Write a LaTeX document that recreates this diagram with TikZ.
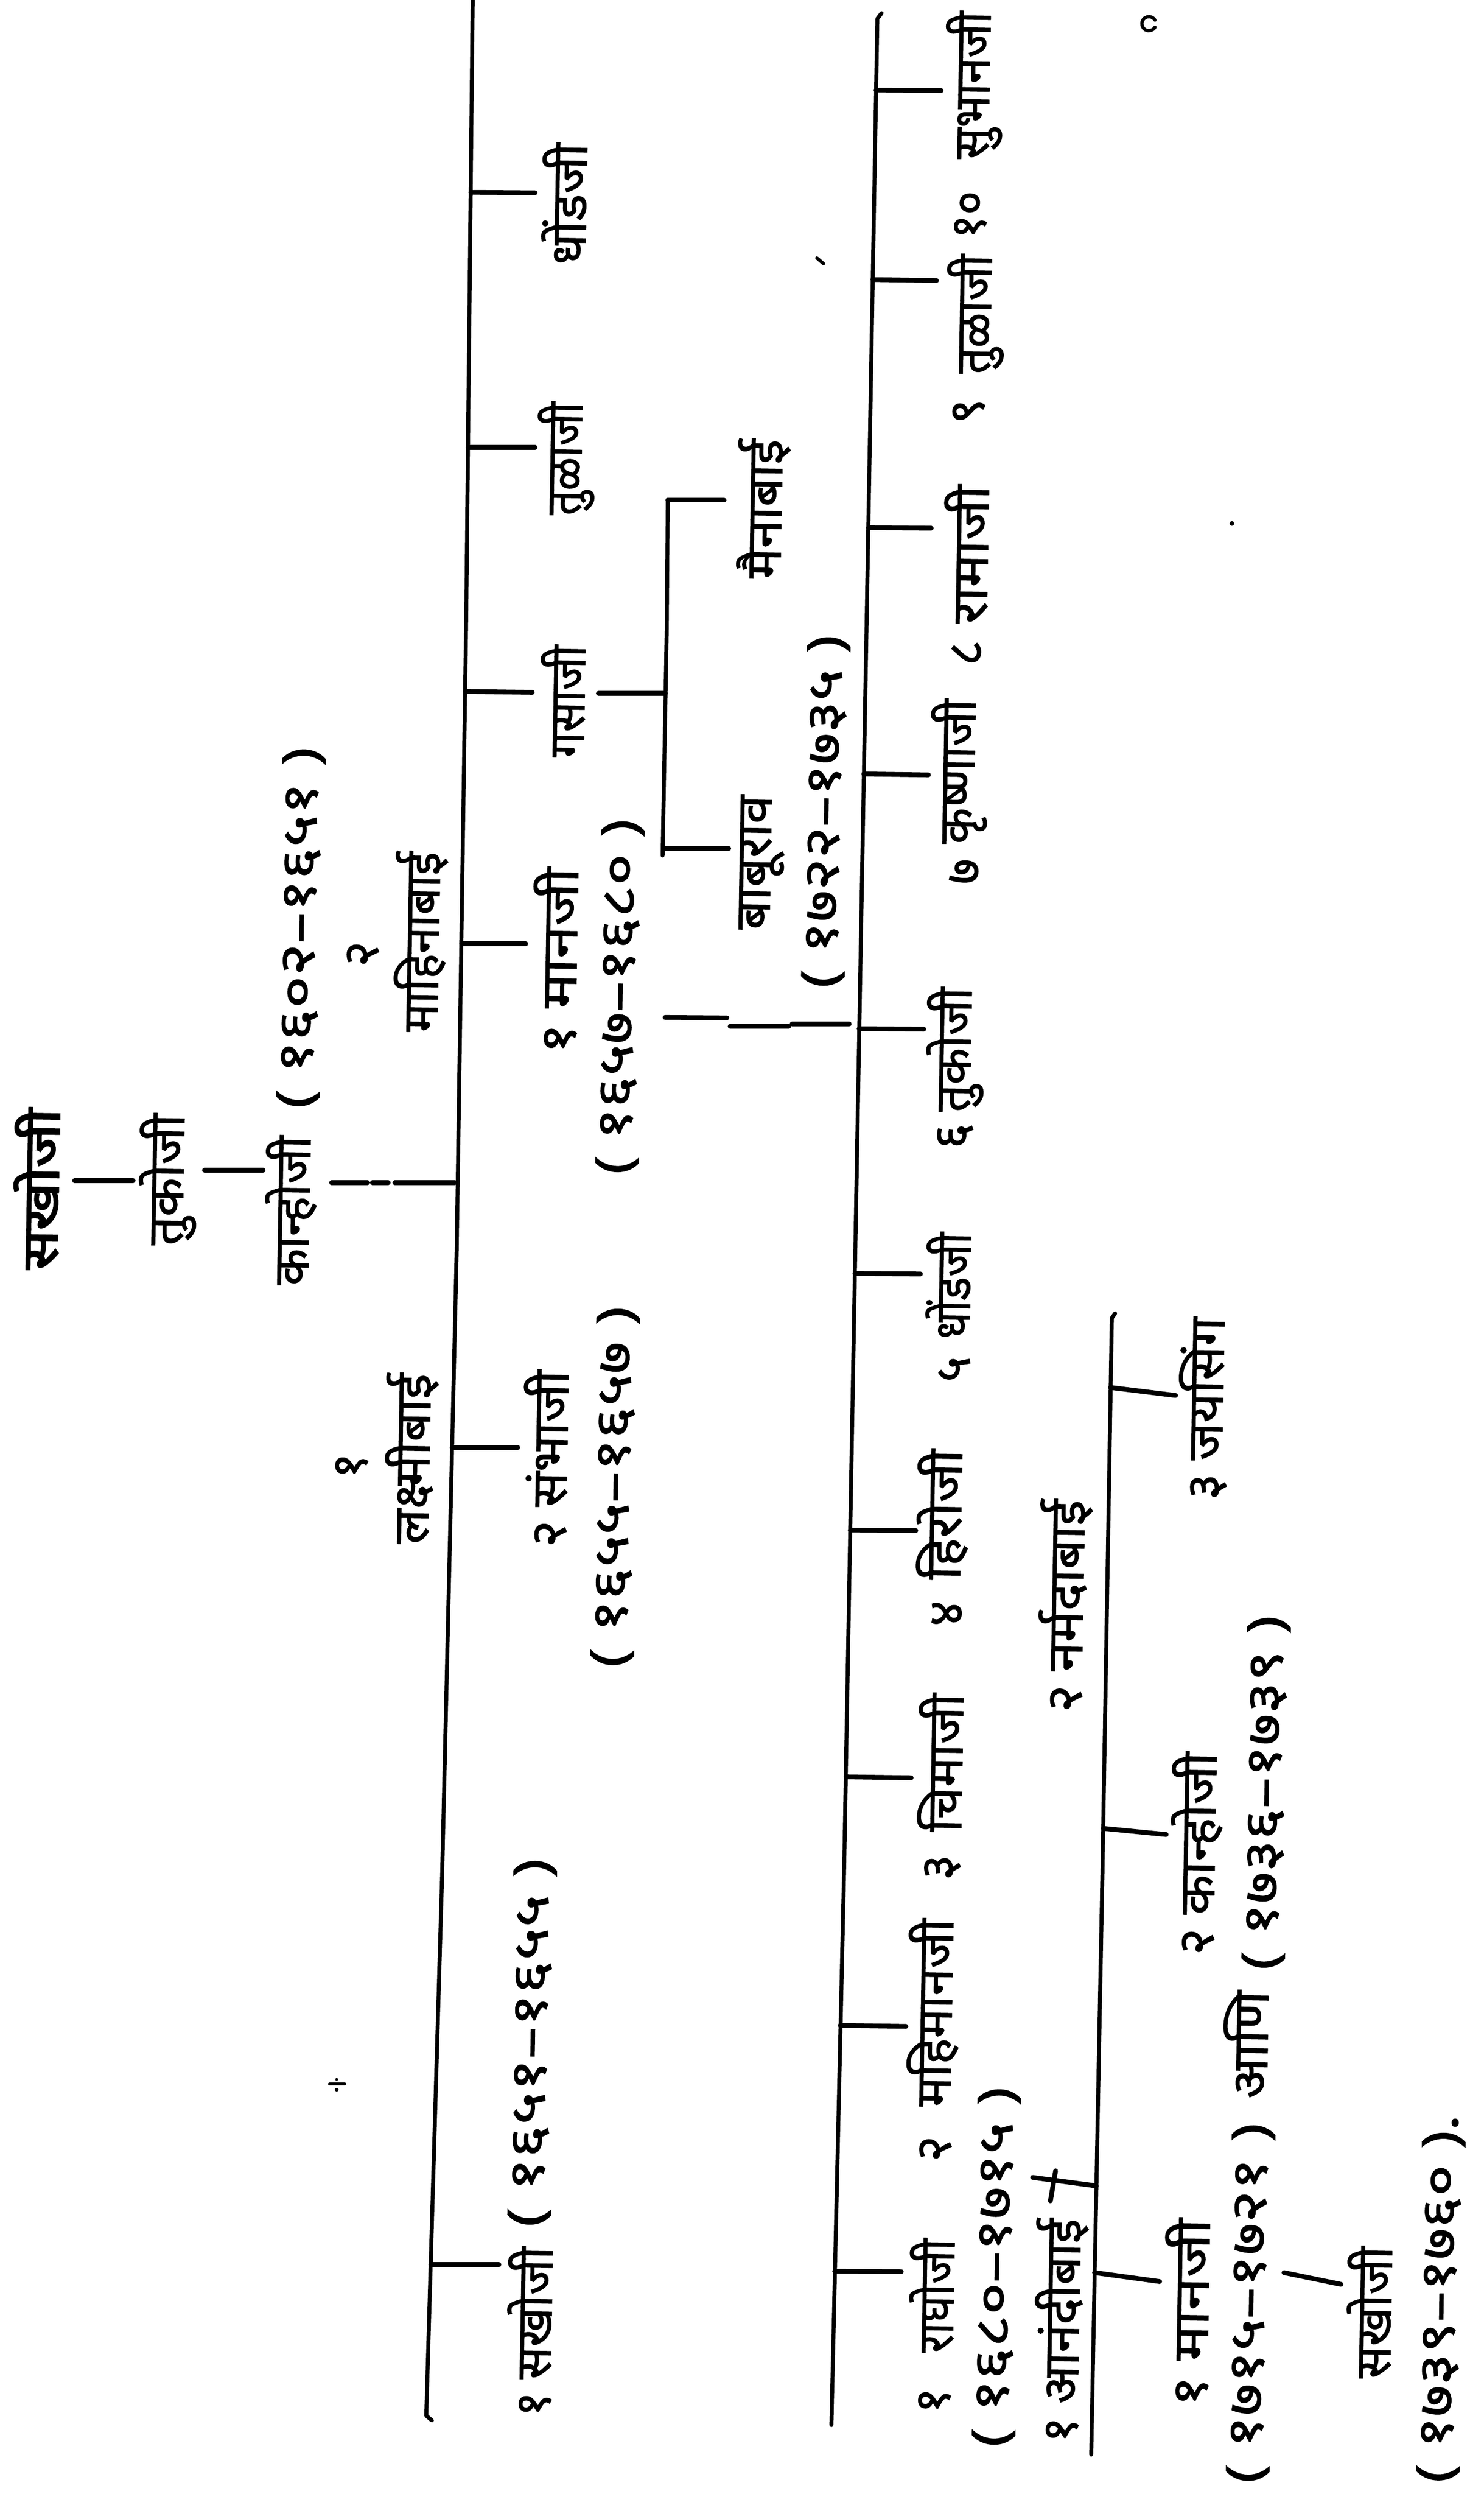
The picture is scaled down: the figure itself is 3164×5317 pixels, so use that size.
\documentclass[tikz,border=0pt]{standalone}
\usepackage{fontspec}
\usepackage{graphicx}
\newfontfamily\dev[Script=Devanagari,FakeBold=1.2]{Noto Sans}
\newfontfamily\devb[Script=Devanagari,FakeBold=3]{Noto Sans}
\newlength\pxu
\setlength\pxu{0.01cm}
\newcommand\W[2]{\resizebox{#1\pxu}{\height}{#2}}
\begin{document}
\begin{tikzpicture}[x=0.01cm,y=-0.01cm,
  tx/.style={font=\dev\fontsize{30}{36}\selectfont,rotate=89,inner sep=0pt,outer sep=0pt},
  lin/.style={line width=2.4pt,line cap=round,line join=round},
  tick/.style={line width=2.9pt,line cap=round},
  speck/.style={line width=2pt,line cap=round}]
\useasboundingbox (0,0) rectangle (3164,5317);

% ---------- root column ----------
\node[tx] (root) at (78,2535) {\devb\W{343}{सखोजी}};
\node[tx] (tukoji) at (358,2515) {\W{280}{तुकोजी}};
\node[tx] (kanhoji) at (620,2581) {\W{318}{कान्होजी}};
\node[tx] (kdates) at (642,1978) {\W{770}{( १६०२–१६५१ )}};
\node[tx] (w2n) at (774,2034) {२};
\node[tx] (w2) at (897,2008) {\W{384}{माहिनाबाई}};
\node[tx] (w1n) at (750,3125) {१};
\node[tx] (w1) at (877,3110) {\W{363}{लक्ष्मीबाई}};

% ---------- children of kanhoji ----------
\node[tx] (dhondji) at (1203,435) {\W{259}{धोंडजी}};
\node[tx] (tulaji) at (1207,978) {\W{241}{तुळाजी}};
\node[tx] (gasaji) at (1200,1495) {\W{239}{गसाजी}};
\node[tx] (manji) at (1184,2048) {\W{397}{१ मानजी}};
\node[tx] (mdates) at (1322,2125) {\W{757}{( १६५७–१६८० )}};
\node[tx] (sambhaji) at (1163,3110) {\W{377}{२ संभाजी}};
\node[tx] (sdates) at (1312,3170) {\W{769}{( १६५५–१६५७ )}};
\node[tx] (sakhoji) at (1130,4971) {\W{362}{१ सखोजी}};
\node[tx] (skdates) at (1135,4355) {\W{785}{( १६५१–१६५५ )}};

% ---------- children of gasaji ----------
\node[tx] (maina) at (1628,1085) {\W{297}{मैनाबाई}};
\node[tx] (baburao) at (1625,1839) {\W{286}{बाबूराव}};
\node[tx] (bdates) at (1761,1730) {\W{752}{( १७२२–१७३५ )}};

% ---------- children of manji ----------
\node[tx] (c10) at (2077,182) {\W{314}{सुभानजी}};
\node[tx] (n10) at (2070,458) {\W{102}{१०}};
\node[tx] (c9) at (2080,670) {\W{254}{तुळाजी}};
\node[tx] (n9) at (2066,877) {९};
\node[tx] (c8) at (2060,1182) {\W{295}{रामाजी}};
\node[tx] (n8) at (2062,1392) {८};
\node[tx] (c7) at (2045,1645) {\W{308}{कृष्णाजी}};
\node[tx] (n7) at (2057,1858) {७};
\node[tx] (c6) at (2037,2238) {\W{265}{तुकोजी}};
\node[tx] (n6) at (2037,2422) {६};
\node[tx] (c5) at (2022,2741) {\W{227}{धोंडजी}};
\node[tx] (n5) at (2035,2919) {५};
\node[tx] (c4) at (2010,3229) {\W{278}{हिरोजी}};
\node[tx] (n4) at (2020,3440) {४};
\node[tx] (c3) at (2005,3758) {\W{295}{चिमाजी}};
\node[tx] (n3) at (2010,3981) {३};
\node[tx] (c2) at (1990,4291) {\W{400}{महिमानजी}};
\node[tx] (n2) at (1995,4581) {२};
\node[tx] (c1) at (1987,4894) {\W{243}{राघोजी}};
\node[tx] (n1) at (1993,5118) {१};

% ---------- raghoji branch ----------
\node[tx] (rdates) at (2125,4833) {\W{767}{( १६८०–१७१५ )}};
\node[tx] (anandi) at (2262,4969) {\W{478}{१ आनंदीबाई}};
\node[tx] (narmada) at (2271,3424) {\W{453}{२ नर्मदाबाई}};
\node[tx] (jaysing) at (2566,3003) {\W{389}{३ जयसिंग}};
\node[tx] (kanhoji2) at (2551,3952) {\W{433}{२ कान्होजी}};
\node[tx] (k2dates) at (2700,3822) {\W{755}{( १७३६–१७३९ )}};
\node[tx] (aani) at (2656,4359) {\W{230}{आणि}};
\node[tx] (manji2) at (2531,4930) {\W{401}{१ मानजी}};
\node[tx] (m2dates) at (2667,4910) {\W{767}{( १७१५–१७२१ )}};
\node[tx] (sakhoji2) at (2920,4930) {\W{281}{सखोजी}};
\node[tx] (s2dates) at (3073,4900) {\W{785}{( १७३९–१७६० ).}};

% ---------- long lines ----------
\coordinate (L1a) at (1008,0);
\coordinate (L1b) at (994,1330);
\coordinate (L1c) at (974,2660);
\coordinate (L1d) at (943,3990);
\coordinate (L1e) at (909,5150);
\coordinate (L1f) at (921,5160);
\draw[lin] (L1a) -- (L1b) -- (L1c) -- (L1d) -- (L1e) -- (L1f);

\coordinate (L2a) at (1880,28);
\coordinate (L2b) at (1871,40);
\coordinate (L2c) at (1848,1330);
\coordinate (L2d) at (1824,2660);
\coordinate (L2e) at (1800,3990);
\coordinate (L2f) at (1773,5170);
\draw[lin] (L2a) -- (L2b) -- (L2c) -- (L2d) -- (L2e) -- (L2f);

\coordinate (L3a) at (2378,2800);
\coordinate (L3b) at (2371,2810);
\coordinate (L3c) at (2351,3990);
\coordinate (L3d) at (2327,5233);
\draw[lin] (L3a) -- (L3b) -- (L3c) -- (L3d);

\coordinate (Lga) at (1424,1066);
\coordinate (Lgb) at (1422,1330);
\coordinate (Lgc) at (1413,1824);
\draw[lin] (Lga) -- (Lgb) -- (Lgc);

% ---------- root connectors ----------
\coordinate (r1) at (159,2517); \coordinate (r2) at (284,2517);
\draw[tick] (r1) -- (r2);
\coordinate (r3) at (436,2495); \coordinate (r4) at (561,2495);
\draw[tick] (r3) -- (r4);
\coordinate (k1) at (707,2521); \coordinate (k2) at (784,2521);
\coordinate (k3) at (794,2521); \coordinate (k4) at (828,2521);
\coordinate (k5) at (842,2521); \coordinate (k6) at (970,2521);
\draw[tick] (k1) -- (k2) (k3) -- (k4) (k5) -- (k6);

% ---------- ticks from L1 ----------
\coordinate (a1) at (1004,410);  \coordinate (b1) at (1141,411);
\coordinate (a2) at (998,954);   \coordinate (b2) at (1141,954);
\coordinate (a3) at (992,1474);  \coordinate (b3) at (1135,1476);
\coordinate (a4) at (984,2012);  \coordinate (b4) at (1121,2012);
\coordinate (a5) at (964,3086);  \coordinate (b5) at (1104,3086);
\coordinate (a6) at (919,4828);  \coordinate (b6) at (1064,4828);
\foreach \i in {1,...,6} {\draw[tick] (a\i) -- (b\i);}

% ---------- gasaji branch ----------
\coordinate (g1) at (1276,1478); \coordinate (g2) at (1419,1478);
\draw[tick] (g1) -- (g2);
\coordinate (g3) at (1544,1066);
\draw[tick] (Lga) -- (g3);
\coordinate (g4) at (1414,1809); \coordinate (g5) at (1554,1809);
\draw[tick] (g4) -- (g5);

% ---------- manji to L2 ----------
\coordinate (m1) at (1418,2169); \coordinate (m2) at (1550,2170);
\coordinate (m3) at (1557,2188); \coordinate (m4) at (1682,2188);
\coordinate (m5) at (1689,2183); \coordinate (m6) at (1811,2183);
\draw[tick] (m1) -- (m2) (m3) -- (m4) (m5) -- (m6);

% ---------- ticks from L2 ----------
\coordinate (p1) at (1868,192);  \coordinate (q1) at (2007,193);
\coordinate (p2) at (1861,596);  \coordinate (q2) at (1997,598);
\coordinate (p3) at (1852,1125); \coordinate (q3) at (1986,1126);
\coordinate (p4) at (1842,1650); \coordinate (q4) at (1980,1652);
\coordinate (p5) at (1832,2193); \coordinate (q5) at (1970,2194);
\coordinate (p6) at (1823,2715); \coordinate (q6) at (1963,2716);
\coordinate (p7) at (1813,3262); \coordinate (q7) at (1953,3263);
\coordinate (p8) at (1804,3788); \coordinate (q8) at (1943,3790);
\coordinate (p9) at (1792,4318); \coordinate (q9) at (1932,4320);
\coordinate (p10) at (1780,4842); \coordinate (q10) at (1922,4843);
\foreach \i in {1,...,10} {\draw[tick] (p\i) -- (q\i);}

% ---------- L3 ticks ----------
\coordinate (j1) at (2368,2958); \coordinate (j2) at (2507,2975);
\draw[tick] (j1) -- (j2);
\coordinate (h1) at (2353,3898); \coordinate (h2) at (2487,3911);
\draw[tick] (h1) -- (h2);
\coordinate (e1) at (2202,4642); \coordinate (e2) at (2338,4660);
\draw[tick] (e1) -- (e2);
\coordinate (e3) at (2240,4692); \coordinate (e4) at (2251,4628);
\draw[tick] (e3) -- (e4);
\coordinate (f1) at (2334,4845); \coordinate (f2) at (2473,4864);
\draw[tick] (f1) -- (f2);
\coordinate (f3) at (2738,4845); \coordinate (f4) at (2860,4870);
\draw[tick] (f3) -- (f4);

% ---------- small marks of the scan ----------
\coordinate (s1) at (2449,68);
\draw[speck] (s1) ++(14,-10) arc[start angle=30,end angle=330,radius=15];
\coordinate (s2) at (1742,550); \coordinate (s3) at (1756,562);
\draw[speck] (s2) -- (s3);
\coordinate (s4) at (2627,1116);
\fill (s4) circle[radius=5];
\coordinate (s5) at (703,4443); \coordinate (s6) at (735,4443);
\draw[speck] (s5) -- (s6);
\fill (718,4433) circle[radius=3] (718,4455) circle[radius=4];
\end{tikzpicture}
\end{document}
